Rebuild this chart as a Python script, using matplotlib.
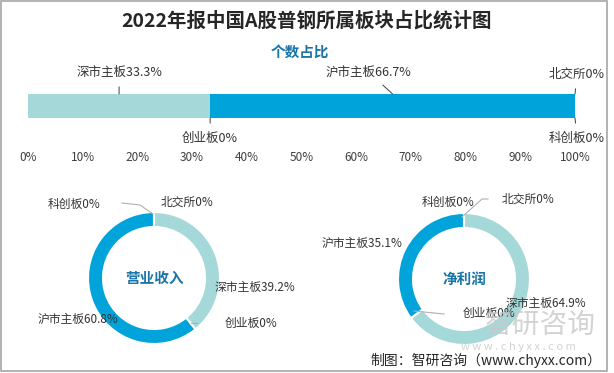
import matplotlib
matplotlib.use("Agg")
import matplotlib.pyplot as plt
from matplotlib.patches import Rectangle
from matplotlib.lines import Line2D
import numpy as np

plt.rcParams['font.family'] = ['Noto Sans CJK SC', 'DejaVu Sans']

# data
boards = ['深市主板', '创业板', '沪市主板', '北交所', '科创板']
count_share = [33.3, 0, 66.7, 0, 0]
ring_order = ['北交所', '深市主板', '创业板', '沪市主板', '科创板']
revenue_share = [0, 39.2, 0, 60.8, 0]
profit_share = [0, 64.9, 0, 35.1, 0]
x_ticks = [0, 10, 20, 30, 40, 50, 60, 70, 80, 90, 100]

W, H = 614, 373
BLUE = '#00a3da'
TEAL = '#a5d8d8'
TXT = '#333333'
colors = {'深市主板': TEAL, '沪市主板': BLUE, '创业板': TEAL, '北交所': TEAL, '科创板': BLUE}


def fx(x):
    return x / W


def fy(y):
    return 1 - y / H


fig = plt.figure(figsize=(W / 100, H / 100), dpi=100)

# frame
fig.patches.append(Rectangle((fx(1), fy(371)), fx(606), 370 / H, transform=fig.transFigure,
                             fill=False, edgecolor='#a6a6a6', linewidth=1.2))

fig.text(fx(307), fy(21), '2022年报中国A股普钢所属板块占比统计图', ha='center', va='center',
         fontsize=14, fontweight='bold', color='#262626')
fig.text(fx(300), fy(52), '个数占比', ha='center', va='center',
         fontsize=10.5, fontweight='bold', color='#1a74a8')

# stacked bar
ax = fig.add_axes([fx(28), fy(118), fx(547), 24 / H])
left = 0
mids = []
for name, v in zip(boards, count_share):
    ax.barh(0.5, v, left=left, height=1, color=colors[name], linewidth=0)
    mids.append(left + v / 2)
    left += v
ax.set_xlim(0, 100)
ax.set_ylim(0, 1)
for s in ax.spines.values():
    s.set_visible(False)
ax.set_yticks([])
ax.set_xticks(x_ticks)
ax.set_xticklabels([f'{t}%' for t in x_ticks])
ax.tick_params(axis='x', length=0, pad=24, labelsize=8.5, labelcolor='#404040')

# bar labels: (text offset in px from anchor, top/bottom)
bar_lbl = {
    '深市主板': (0, -22, 1, 'center'),
    '创业板': (0, 20, 0, 'center'),
    '沪市主板': (-24, -22, 1, 'center'),
    '北交所': (2, -20, 1, 'center'),
    '科创板': (2, 20, 0, 'center'),
}
for name, v, m in zip(boards, count_share, mids):
    dx, dy, top, ha = bar_lbl[name]
    txt = f'{name}{v:g}%'
    ax.annotate(txt, xy=(m, top), xytext=(dx * 0.72, -dy * 0.72), textcoords='offset points',
                ha=ha, va='center', fontsize=9, color=TXT, annotation_clip=False,
                arrowprops=dict(arrowstyle='-', color='#404040', lw=0.7, shrinkA=4, shrinkB=0))


def donut(cx, cy, values, title, labels_px, leaders):
    R = 66
    a = fig.add_axes([fx(cx - R), fy(cy + R), fx(2 * R), 2 * R / H])
    a.pie(values, colors=[colors[n] for n in ring_order], startangle=90, counterclock=False,
          radius=1, wedgeprops=dict(width=15 / 66, edgecolor='white', linewidth=1.5))
    a.set_xlim(-1, 1)
    a.set_ylim(-1, 1)
    a.axis('off')
    a.text(0, 0, title, ha='center', va='center', fontsize=10.5, fontweight='bold', color='#1a74a8')
    for name, v in zip(ring_order, values):
        x, y = labels_px[name]
        fig.text(fx(x), fy(y), f'{name}{v:g}%', ha='center', va='center', fontsize=8.5, color=TXT)
    for pts in leaders:
        xs = [fx(p[0]) for p in pts]
        ys = [fy(p[1]) for p in pts]
        fig.lines.append(Line2D(xs, ys, transform=fig.transFigure, color='#b0b0b0', lw=0.8))


donut(154, 278, revenue_share, '营业收入',
      {'科创板': (74, 204), '北交所': (187, 202), '深市主板': (255, 287),
       '创业板': (251, 323), '沪市主板': (78, 319)},
      [[(122, 203), (140, 205), (153, 214)], [(191, 323), (197, 323)]])

donut(464, 279, profit_share, '净利润',
      {'科创板': (448, 202), '北交所': (528, 199), '深市主板': (546, 303),
       '创业板': (489, 313), '沪市主板': (362, 243)},
      [[(488, 199), (482, 199), (462, 217)], [(414, 311), (444, 314)]])

# watermark
fig.text(fx(540), fy(325), '智研咨询', ha='center', va='center', fontsize=20,
         color='#c8c8c8', alpha=0.8)
fig.text(fx(518), fy(347), 'w w w . c h y x x . c o m', ha='center', va='center', fontsize=8,
         color='#c8c8c8', alpha=0.8)
fig.text(fx(486), fy(360), '制图：智研咨询（www.chyxx.com）', ha='center', va='center',
         fontsize=10, color='#262626')

fig.savefig('out.png', dpi=100)
